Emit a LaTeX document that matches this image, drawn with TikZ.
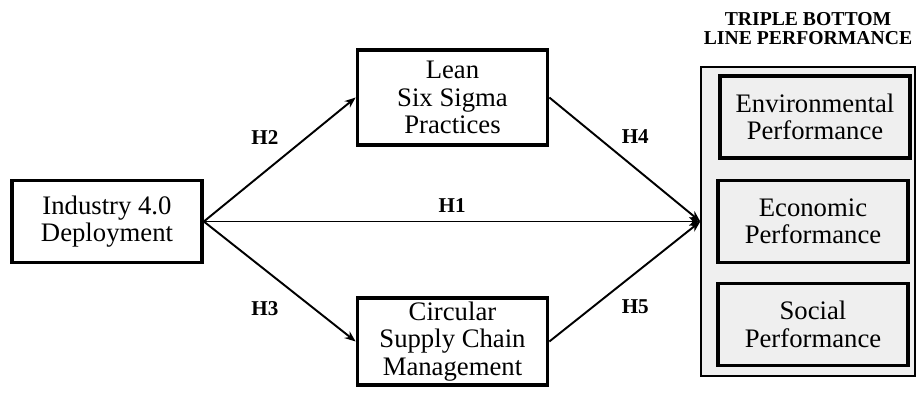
\documentclass[tikz,border=0pt]{standalone}
\usepackage{fontspec}
\setmainfont{Liberation Serif}
\usetikzlibrary{positioning,arrows.meta}
\definecolor{boxgray}{HTML}{EFEFEF}

\begin{document}
\begin{tikzpicture}[x=0.2mm, y=-0.2mm]
		% styles
		\tikzset{
			block/.style={draw, rectangle, line width=2.1pt, minimum width=38mm, minimum height=16.4mm, align=center, inner sep=1pt, font=\fontsize{15.2}{15.6}\selectfont},
			tblblock/.style={block, fill=boxgray},
			outerblock/.style={draw, rectangle, line width=0.8pt, fill=boxgray, minimum width=42.8mm, minimum height=61.8mm},
			hyp/.style={font=\bfseries\fontsize{12}{12}\selectfont, inner sep=2pt},
			link/.style={-{Stealth[length=2.2mm, width=1.7mm]}, line width=1.1pt}
		}
		\useasboundingbox (0,0) rectangle (917,394);

		% nodes
		\node[block] (ind) at (107,221.5) {Industry 4.0\\Deployment};
		\node[block, minimum height=19mm] (lss) at (452.5,97.5) {Lean\\Six Sigma\\Practices};
		\node[block, minimum height=17.4mm] (csc) at (452.5,341.5) {Circular\\Supply Chain\\Management};

		% triple bottom line group
		\node[outerblock] (tbl) at (808,221.5) {};
		\node[above=4.3mm of tbl, align=center, inner sep=0pt, font=\bfseries\fontsize{11.2}{10.6}\selectfont] (tbltitle) {TRIPLE BOTTOM\\LINE PERFORMANCE};
		\node[tblblock] (env) at (815,117) {Environmental\\Performance};
		\node[tblblock] (eco) at (813,221.5) {Economic\\Performance};
		\node[tblblock] (soc) at (813,324.5) {Social\\Performance};

		% connections
		\draw[link] (ind.east) -- (lss.west) node[pos=0.52, above left=1.6mm and 0mm, hyp] {H2};
		\draw[link] (ind.east) -- (csc.west) node[pos=0.52, below left=2.7mm and 0mm, hyp] {H3};
		\draw[link] (ind.east) -- (tbl.west) node[midway, above=1mm, hyp] {H1};
		\draw[link] (lss.east) -- (tbl.west) node[pos=0.45, above right=1mm and 0mm, hyp] {H4};
		\draw[link] (csc.east) -- (tbl.west) node[pos=0.45, below right=1.5mm and 0mm, hyp] {H5};

\end{tikzpicture}
\end{document}
